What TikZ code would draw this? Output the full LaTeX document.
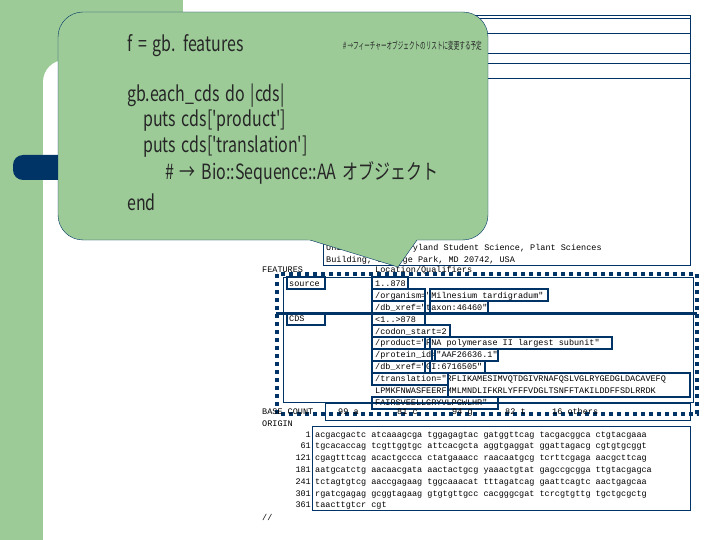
\documentclass[tikz,border=0pt]{standalone}
\usepackage{fontspec}
\setmainfont{Noto Sans CJK JP}
\newfontfamily\mono{Liberation Mono}
\newfontfamily\narrow[FakeStretch=0.76]{Noto Sans CJK JP}
\newfontfamily\cmtfont[FakeStretch=0.56]{Noto Sans CJK JP}
\newcommand\mycodefont{\narrow\fontsize{21}{24}\selectfont\spaceskip=0.28em\relax}
\definecolor{grn}{HTML}{9CCB98}
\definecolor{navy}{HTML}{003366}
\tikzset{
  mt/.style={font=\mono\fontsize{8.5}{9}\selectfont, anchor=base west, inner sep=0pt},
  fbox/.style={draw=navy, line width=1.6pt},
  code/.style={font=\mycodefont, anchor=base west, inner sep=0pt, text=black!85},
}
\begin{document}
\begin{tikzpicture}[x=1pt,y=-1pt]
\useasboundingbox (0,0) rectangle (720,540);
% slide template
\fill[grn] (0,0) rectangle (183,540);
\fill[white, rounded corners=22pt] (43,60) rectangle (740,560);
\fill[grn] (0,0) rectangle (43,540);
\fill[navy, rounded corners=10pt] (13,155) rectangle (200,180);
% screenshot header box
\draw[navy, thin] (323,15) rectangle (690,265);
\foreach \yy in {18,33,53,63,78} \draw[navy,thin] (470,\yy) -- (690,\yy);
\node[mt] (u1) at (326,250) {University of Maryland Student Science, Plant Sciences};
\node[mt] (u2) at (326,262) {Building, College Park, MD 20742, USA};
% features
\node[mt] (feat) at (262,272) {FEATURES};
\node[mt] (floc) at (375,272) {Location/Qualifiers};
\draw[navy, line width=4pt, dash pattern=on 4pt off 4pt] (277,274) rectangle (697,414);
\draw[navy, thin] (283,277) rectangle (693,402);
\draw[navy, line width=3pt] (276,313) -- (697,313);
\node[mt] (src) at (289,286) {source};
\draw[fbox] (287,277) rectangle (325,289);
\node[mt] (cds) at (289,321) {CDS};
\draw[fbox] (287,313) rectangle (325,325);
\node[mt] (q1) at (375,286) {1..878};
\draw[fbox] (372,277) rectangle (408,289);
\node[mt] (q2) at (375,298) {/organism="Milnesium tardigradum"};
\draw[fbox] (372,289) rectangle (425,301); \draw[fbox] (430,289) rectangle (548,301);
\node[mt] (q3) at (375,310) {/db\_xref="taxon:46460"};
\draw[fbox] (372,301) rectangle (425,313); \draw[fbox] (430,301) rectangle (488,313);
\node[mt] (q4) at (375,322) {<1..>878};
\draw[fbox] (372,313) rectangle (425,325);
\node[mt] (q5) at (375,334) {/codon\_start=2};
\draw[fbox] (372,325) rectangle (450,337);
\node[mt] (q6) at (375,345) {/product="RNA polymerase II largest subunit"};
\draw[fbox] (372,337) rectangle (425,349); \draw[fbox] (430,337) rectangle (612,349);
\node[mt] (q7) at (375,357) {/protein\_id="AAF26636.1"};
\draw[fbox] (372,349) rectangle (432,361); \draw[fbox] (435,349) rectangle (498,361);
\node[mt] (q8) at (375,369) {/db\_xref="GI:6716505"};
\draw[fbox] (372,361) rectangle (425,373); \draw[fbox] (430,361) rectangle (485,373);
\node[mt] (q9) at (375,381) {/translation="RFLIKAMESIMVQTDGIVRNAFQSLVGLRYGEDGLDACAVEFQ};
\node[mt] (q10) at (375,393) {LPMKFNWASFEERFMMLMNDLIFKRLYFFFVDGLTSNFFTAKILDDFFSDLRRDK};
\node[mt] (q11) at (375,405) {FAIRSVEELLGRYVLPGWLHR"};
\draw[fbox] (372,373) rectangle (448,385); \draw[fbox] (448,373) rectangle (690,397);
\draw[fbox] (372,397) rectangle (498,409);
\draw[navy,thin] (325,403) rectangle (690,420);
\node[mt] (bc) at (262,414) {BASE COUNT};
\node[mt] (bca) at (338,414) {99 a};
\node[mt] (bcc) at (397,414) {81 c};
\node[mt] (bcg) at (452,414) {94 g};
\node[mt] (bct) at (505,414) {82 t};
\node[mt] (bco) at (552,414) {16 others};
\node[mt] (org) at (262,426) {ORIGIN};
\draw[navy,thin] (312,426) rectangle (690,510);
\foreach \n/\s [count=\i from 0] in {
 1/acgacgactc atcaaagcga tggagagtac gatggttcag tacgacggca ctgtacgaaa,
 61/tgcacaccag tcgttggtgc attcacgcta aggtgaggat ggattagacg cgtgtgcggt,
 121/cgagtttcag acactgccca ctatgaaacc raacaatgcg tcrttcgaga aacgcttcag,
 181/aatgcatctg aacaacgata aactactgcg yaaactgtat gagccgcgga ttgtacgagca,
 241/tctagtgtcg aaccgagaag tggcaaacat tttagatcag gaattcagtc aactgagcaa,
 301/rgatcgagag gcggtagaag gtgtgttgcc cacgggcgat tcrcgtgttg tgctgcgctg,
 361/taacttgtcr cgt}{
  \node[mt, anchor=base east] (n\i) at (311,{437+11.8*\i}) {\n};
  \node[mt] (s\i) at (315,{437+11.8*\i}) {\s};
}
\node[mt] (end) at (262,520) {//};
% callout
\draw[navy, thin, fill=grn, rounded corners=25pt] (58,12) rectangle (488,240);
\fill[grn] (305,238.5) -- (398,267) -- (418,238.5) -- cycle;
\draw[navy, thin] (310,240) -- (398,267) -- (417,240);
\node[code] (c1) at (127,52) {f = gb. features};
\node[anchor=base west, inner sep=0pt, font=\cmtfont\fontsize{10}{12}\selectfont, text=black!85] (c1c) at (343,50) {\# →フィーチャーオブジェクトのリストに変更する予定};
\node[code] (c2) at (127,102) {gb.each\_cds do |cds|};
\node[code] (c3) at (143,127) {puts cds['product']};
\node[code] (c4) at (143,153) {puts cds['translation']};
\node[code] (c5) at (165,180) {\# → Bio::Sequence::AA オブジェクト};
\node[code] (c6) at (127,211) {end};
\end{tikzpicture}
\end{document}
